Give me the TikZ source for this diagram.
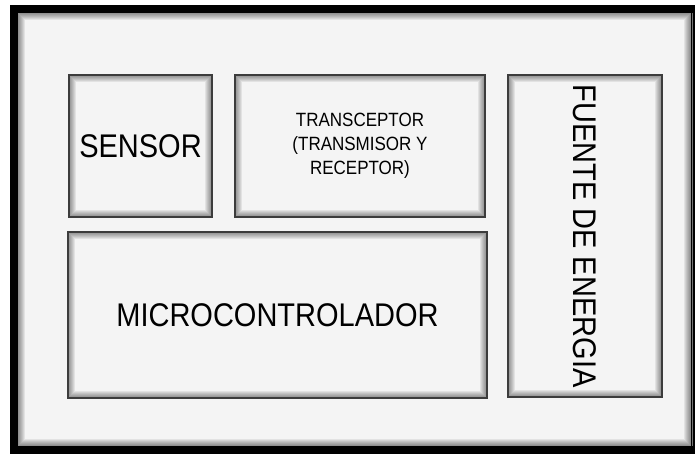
\documentclass[tikz,border=0pt]{standalone}
\usepackage{fontspec}
\setmainfont{Liberation Sans}
\usepackage{graphicx}
\usepackage{tikz}
\definecolor{panelgray}{HTML}{F4F4F4}
\definecolor{edgegray}{HTML}{3C3C3C}
\newcommand{\tallx}[1]{\scalebox{1}[1.13]{#1}}
\tikzset{
  innershadow/.style={path picture={
    \foreach \w in {2,4,...,14}
      \draw[black,opacity=0.07,line width=\w pt] (path picture bounding box.south west) rectangle (path picture bounding box.north east);}},
  blockbox/.style={draw=edgegray,line width=1.3pt,fill=panelgray,inner sep=0pt,
    font=\fontsize{29}{34}\selectfont,innershadow}
}

\begin{document}
\begin{tikzpicture}[x=1pt,y=-1pt]
  \useasboundingbox (0,0) rectangle (695,454);
  \fill[white] (0,0) rectangle (695,454);
  \fill[black] (10,5) rectangle (695,454);
  \draw[black!55,line width=1pt] (692.5,13) -- (692.5,446);
  \node[fill=panelgray,inner sep=0pt,minimum width=673pt,minimum height=433pt,innershadow] (frame) at (354.5,229.5) {};
  \node[blockbox,minimum width=143pt,minimum height=142pt] (sensor) at (140.5,146) {\tallx{SENSOR}};
  \node[blockbox,minimum width=250pt,minimum height=142pt,align=center,
    font=\fontsize{17}{24}\selectfont] (transceptor) at (360,146)
    {\tallx{TRANSCEPTOR}\\\tallx{(TRANSMISOR Y}\\\tallx{RECEPTOR)}};
  \node[blockbox,minimum width=419pt,minimum height=166pt] (micro) at (277.5,315) {\tallx{MICROCONTROLADOR}};
  \node[blockbox,minimum width=154pt,minimum height=322pt] (fuente) at (585,236) {};
  \node[rotate=-90,font=\fontsize{29}{34}\selectfont] (fuentetext) at (fuente.center) {\tallx{FUENTE DE ENERGIA}};
\end{tikzpicture}
\end{document}
